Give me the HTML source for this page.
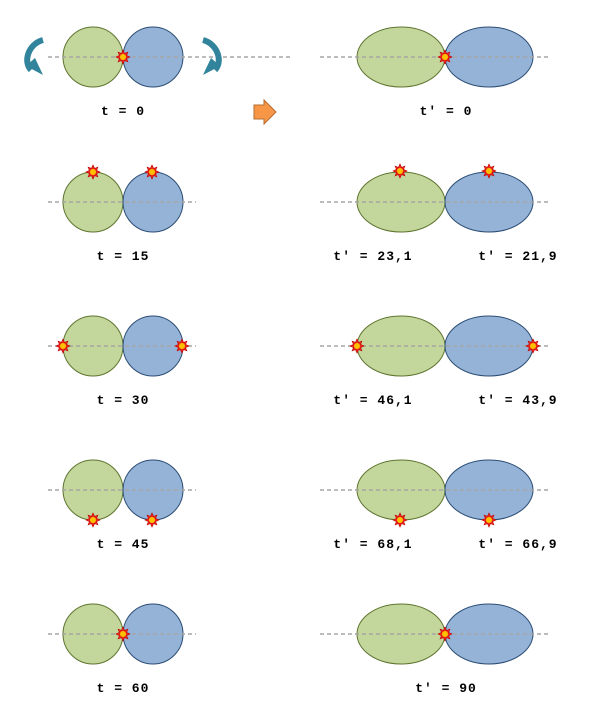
<!DOCTYPE html>
<html><head><meta charset="utf-8"><style>
html,body{margin:0;padding:0;background:#fff;}
svg{display:block}
text{font-family:"Liberation Mono",monospace;font-weight:bold;font-size:13px;letter-spacing:1px;fill:#000}
</style></head><body>
<svg width="600" height="721" viewBox="0 0 600 721" xmlns="http://www.w3.org/2000/svg">
<defs>
<g id="st">
<polygon points="0,-7 1.6,-3.6 4.9,-4.9 3.6,-1.6 7,0 3.6,1.6 4.9,4.9 1.6,3.6 0,7 -1.6,3.6 -4.9,4.9 -3.6,1.6 -7,0 -3.6,-1.6 -4.9,-4.9 -1.6,-3.6" fill="#e8261b" stroke="#c00000" stroke-width="0.6"/>
<circle r="3" fill="#ffc000"/>
</g>
<g id="lc"><circle cx="93" cy="0" r="30" fill="#c3d69b" stroke="#5f7530" stroke-width="1"/><circle cx="153" cy="0" r="30" fill="#95b3d7" stroke="#2c4d75" stroke-width="1"/></g>
<g id="rc"><ellipse cx="401" cy="0" rx="44" ry="30" fill="#c3d69b" stroke="#5f7530" stroke-width="1"/><ellipse cx="489" cy="0" rx="44" ry="30" fill="#95b3d7" stroke="#2c4d75" stroke-width="1"/></g>
</defs>
<use href="#lc" y="57"/><use href="#rc" y="57"/>
<use href="#lc" y="202"/><use href="#rc" y="202"/>
<use href="#lc" y="346"/><use href="#rc" y="346"/>
<use href="#lc" y="490"/><use href="#rc" y="490"/>
<use href="#lc" y="634"/><use href="#rc" y="634"/>
<g stroke="#a6a6a6" stroke-width="1.5" stroke-dasharray="4,3">
<line x1="48" y1="57" x2="292" y2="57"/><line x1="320" y1="57" x2="548" y2="57"/>
<line x1="48" y1="202" x2="196" y2="202"/><line x1="320" y1="202" x2="548" y2="202"/>
<line x1="48" y1="346" x2="196" y2="346"/><line x1="320" y1="346" x2="548" y2="346"/>
<line x1="48" y1="490" x2="196" y2="490"/><line x1="320" y1="490" x2="548" y2="490"/>
<line x1="48" y1="634" x2="196" y2="634"/><line x1="320" y1="634" x2="548" y2="634"/>
</g>
<use href="#st" x="123" y="57"/><use href="#st" x="445" y="57"/>
<use href="#st" x="93" y="172"/><use href="#st" x="152" y="172"/><use href="#st" x="400" y="171"/><use href="#st" x="489" y="171"/>
<use href="#st" x="63" y="346"/><use href="#st" x="182" y="346"/><use href="#st" x="357" y="346"/><use href="#st" x="533" y="346"/>
<use href="#st" x="93" y="520"/><use href="#st" x="152" y="520"/><use href="#st" x="400" y="520"/><use href="#st" x="489" y="520"/>
<use href="#st" x="123" y="634"/><use href="#st" x="445" y="634"/>
<path d="M43,40 C28,44 23,62 31,70" fill="none" stroke="#31849b" stroke-width="6"/>
<polygon points="26,66 43,75 35,58" fill="#31849b"/>
<path d="M203,40 C218,44 223,62 215,70" fill="none" stroke="#31849b" stroke-width="6"/>
<polygon points="220,66 203,75 211,58" fill="#31849b"/>
<polygon points="254,105 264,105 264,100 276,112 264,124 264,119 254,119" fill="#f79646" stroke="#b66d31" stroke-width="1"/>
<text x="123" y="115" text-anchor="middle" xml:space="preserve">t = 0</text>
<text x="446" y="115" text-anchor="middle" xml:space="preserve">t' = 0</text>
<text x="123" y="260" text-anchor="middle" xml:space="preserve">t = 15</text>
<text x="373" y="260" text-anchor="middle" xml:space="preserve">t' = 23,1</text>
<text x="518" y="260" text-anchor="middle" xml:space="preserve">t' = 21,9</text>
<text x="123" y="404" text-anchor="middle" xml:space="preserve">t = 30</text>
<text x="373" y="404" text-anchor="middle" xml:space="preserve">t' = 46,1</text>
<text x="518" y="404" text-anchor="middle" xml:space="preserve">t' = 43,9</text>
<text x="123" y="548" text-anchor="middle" xml:space="preserve">t = 45</text>
<text x="373" y="548" text-anchor="middle" xml:space="preserve">t' = 68,1</text>
<text x="518" y="548" text-anchor="middle" xml:space="preserve">t' = 66,9</text>
<text x="123" y="692" text-anchor="middle" xml:space="preserve">t = 60</text>
<text x="446" y="692" text-anchor="middle" xml:space="preserve">t' = 90</text>
</svg>
</body></html>
